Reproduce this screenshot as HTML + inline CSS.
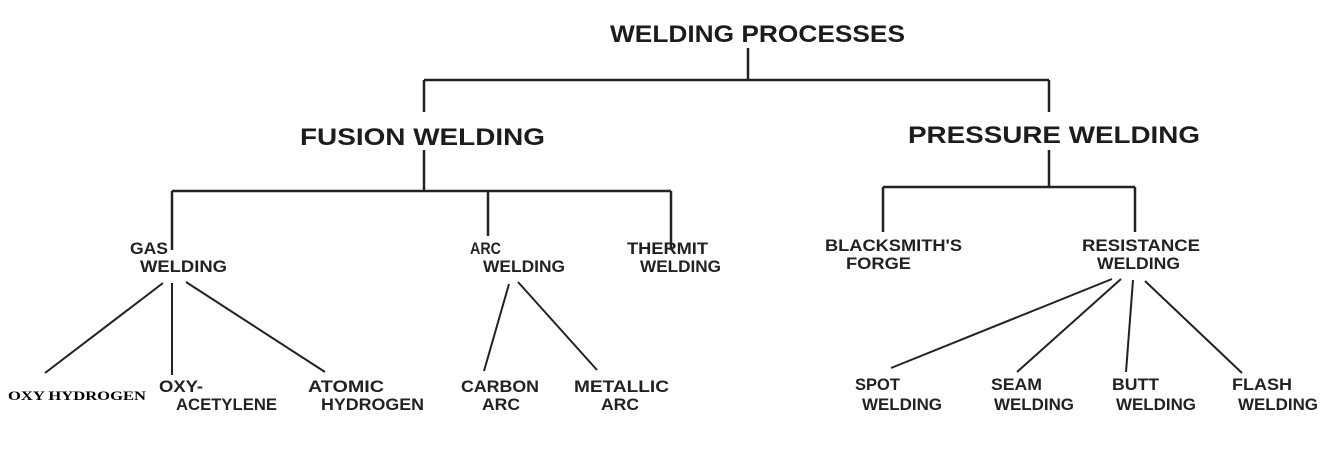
<!DOCTYPE html>
<html><head><meta charset="utf-8"><style>
html,body{margin:0;padding:0;background:#fff;}
svg{display:block;}
text{font-family:"Liberation Sans",sans-serif;font-weight:bold;fill:#222;}
</style></head><body>
<svg width="1333" height="475" viewBox="0 0 1333 475" xmlns="http://www.w3.org/2000/svg">
<rect width="1333" height="475" fill="#fff"/>
<g stroke="#222" stroke-width="2.5" fill="none">
<path d="M748 48V80M424 80H1049M424 80V112M1049 80V112"/>
<path d="M424 150V191M172 191H671M172 191V250M488 191V236M671 191V250"/>
<path d="M1049 150V187M883 187H1135M883 187V232M1135 187V232"/>
</g>
<g stroke="#222" stroke-width="2" fill="none">
<path d="M163 283L45 373M172 283V375M186 282L325 372"/>
<path d="M509 284L484 371M518 282L597 370"/>
<path d="M1112 279L891 368M1121 279L1017 372M1133 280L1126 372M1145 281L1242 373"/>
</g>
<text x="610" y="42" font-size="24" textLength="295" lengthAdjust="spacingAndGlyphs" style="fill:#1c1c1c">WELDING PROCESSES</text>
<text x="300" y="145" font-size="24" textLength="245" lengthAdjust="spacingAndGlyphs" style="fill:#1c1c1c">FUSION  WELDING</text>
<text x="908" y="143" font-size="24" textLength="292" lengthAdjust="spacingAndGlyphs" style="fill:#1c1c1c">PRESSURE  WELDING</text>
<g font-size="17">
<text x="130" y="254" textLength="38" lengthAdjust="spacingAndGlyphs">GAS</text>
<text x="140" y="272" textLength="87" lengthAdjust="spacingAndGlyphs">WELDING</text>
<text x="470" y="254" textLength="31" lengthAdjust="spacingAndGlyphs">ARC</text>
<text x="483" y="272" textLength="82" lengthAdjust="spacingAndGlyphs">WELDING</text>
<text x="627" y="254" textLength="81" lengthAdjust="spacingAndGlyphs">THERMIT</text>
<text x="640" y="272" textLength="81" lengthAdjust="spacingAndGlyphs">WELDING</text>
<text x="825" y="251" textLength="137" lengthAdjust="spacingAndGlyphs">BLACKSMITH'S</text>
<text x="846" y="269" textLength="65" lengthAdjust="spacingAndGlyphs">FORGE</text>
<text x="1082" y="251" textLength="118" lengthAdjust="spacingAndGlyphs">RESISTANCE</text>
<text x="1097" y="269" textLength="83" lengthAdjust="spacingAndGlyphs">WELDING</text>
<text x="159" y="392" textLength="44" lengthAdjust="spacingAndGlyphs">OXY-</text>
<text x="176" y="410" textLength="101" lengthAdjust="spacingAndGlyphs">ACETYLENE</text>
<text x="308" y="392" textLength="76" lengthAdjust="spacingAndGlyphs">ATOMIC</text>
<text x="321" y="410" textLength="103" lengthAdjust="spacingAndGlyphs">HYDROGEN</text>
<text x="461" y="392" textLength="78" lengthAdjust="spacingAndGlyphs">CARBON</text>
<text x="482" y="410" textLength="38" lengthAdjust="spacingAndGlyphs">ARC</text>
<text x="574" y="392" textLength="95" lengthAdjust="spacingAndGlyphs">METALLIC</text>
<text x="601" y="410" textLength="38" lengthAdjust="spacingAndGlyphs">ARC</text>
<text x="855" y="390" textLength="45" lengthAdjust="spacingAndGlyphs">SPOT</text>
<text x="862" y="410" textLength="80" lengthAdjust="spacingAndGlyphs">WELDING</text>
<text x="991" y="390" textLength="51" lengthAdjust="spacingAndGlyphs">SEAM</text>
<text x="994" y="410" textLength="80" lengthAdjust="spacingAndGlyphs">WELDING</text>
<text x="1112" y="390" textLength="47" lengthAdjust="spacingAndGlyphs">BUTT</text>
<text x="1116" y="410" textLength="80" lengthAdjust="spacingAndGlyphs">WELDING</text>
<text x="1232" y="390" textLength="60" lengthAdjust="spacingAndGlyphs">FLASH</text>
<text x="1238" y="410" textLength="80" lengthAdjust="spacingAndGlyphs">WELDING</text>
</g>
<text x="8" y="400" font-size="13" style="font-family:'Liberation Serif',serif;fill:#000" textLength="138" lengthAdjust="spacingAndGlyphs">OXY HYDROGEN</text>
</svg>
</body></html>
